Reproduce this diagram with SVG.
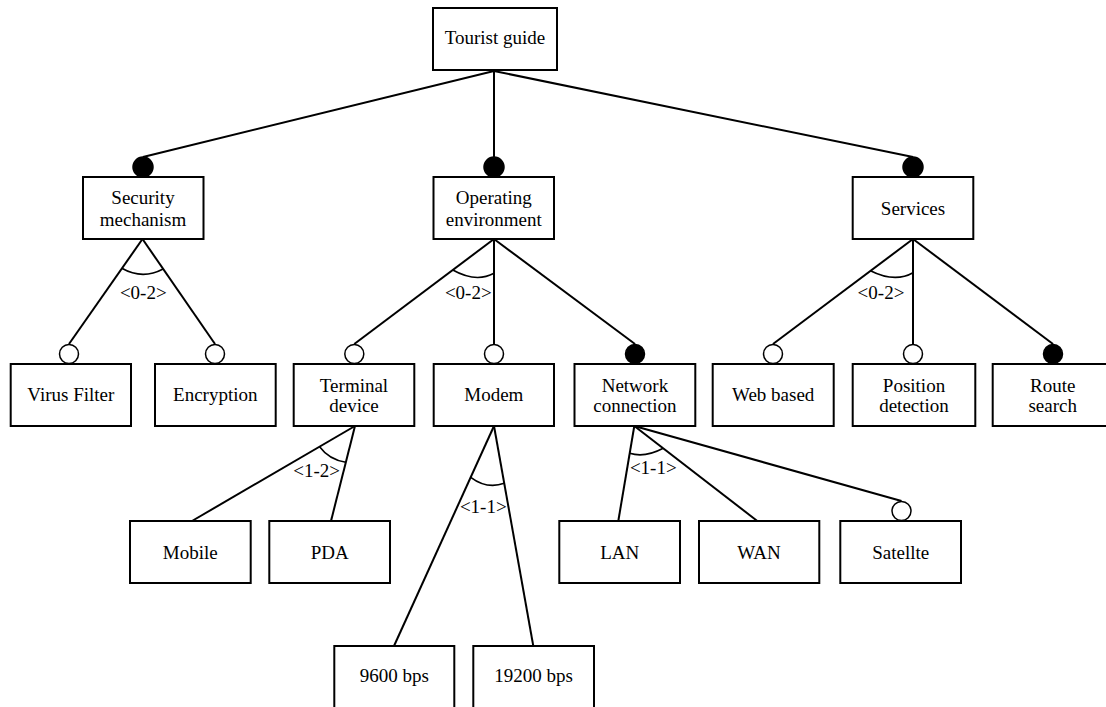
<svg xmlns="http://www.w3.org/2000/svg" width="1106" height="707" viewBox="0 0 1106 707">
  <style>
    .box { fill: #fff; stroke: #000; stroke-width: 2; }
    text { font-family: 'Liberation Serif', 'Times New Roman', serif; fill: #000; text-anchor: middle; }
    .lbl { font-size: 19px; }
    .card { font-size: 19px; }
    .edge { stroke: #000; stroke-width: 2; fill: none; }
    .arc { stroke: #000; stroke-width: 1.6; fill: none; }
    .mand { fill: #000; stroke: #000; stroke-width: 1.5; }
    .opt { fill: #fff; stroke: #000; stroke-width: 1.5; }
  </style>
  <rect width="1106" height="707" fill="#fff"/>

  <!-- connectors -->
  <g id="connectors">
    <!-- Tourist guide to first level -->
    <line class="edge" x1="494" y1="71" x2="143" y2="157"/>
    <line class="edge" x1="494" y1="71" x2="494" y2="157"/>
    <line class="edge" x1="494" y1="71" x2="913" y2="157"/>
    <!-- Security mechanism -->
    <line class="edge" x1="142.5" y1="239" x2="69" y2="344"/>
    <line class="edge" x1="142.5" y1="239" x2="215" y2="344"/>
    <path class="arc" d="M121.8,268.3 Q142.5,280 163.1,269"/>
    <!-- Operating environment -->
    <line class="edge" x1="494" y1="239" x2="354.3" y2="344"/>
    <line class="edge" x1="494" y1="239" x2="494" y2="344"/>
    <line class="edge" x1="494" y1="239" x2="635" y2="344"/>
    <path class="arc" d="M452.8,270 Q476,283 494,273.3"/>
    <!-- Services -->
    <line class="edge" x1="913" y1="239" x2="773" y2="344"/>
    <line class="edge" x1="913" y1="239" x2="913" y2="344"/>
    <line class="edge" x1="913" y1="239" x2="1053" y2="344"/>
    <path class="arc" d="M870.4,270.7 Q895,283 913,272.7"/>
    <!-- Terminal device -->
    <line class="edge" x1="355" y1="426" x2="192" y2="521"/>
    <line class="edge" x1="355" y1="426" x2="331" y2="521"/>
    <path class="arc" d="M319.6,446.7 Q328.9,459.4 345.8,462.3"/>
    <!-- Modem -->
    <line class="edge" x1="494" y1="426" x2="394" y2="646"/>
    <line class="edge" x1="494" y1="426" x2="533.3" y2="646"/>
    <path class="arc" d="M470.7,477.3 Q487,489.5 504.2,483.3"/>
    <!-- Network connection -->
    <line class="edge" x1="634.3" y1="426" x2="618.3" y2="521"/>
    <line class="edge" x1="634.3" y1="426" x2="757.3" y2="521"/>
    <line class="edge" x1="634.3" y1="426" x2="901.5" y2="501"/>
    <path class="arc" d="M629.7,453.3 Q645,458 663.2,448.3"/>

    <!-- feature markers: filled = mandatory, hollow = optional -->
    <circle class="mand" cx="143" cy="167" r="10"/>
    <circle class="mand" cx="494" cy="167" r="10"/>
    <circle class="mand" cx="913" cy="167" r="10"/>
    <circle class="opt" cx="69" cy="354" r="9.5"/>
    <circle class="opt" cx="215" cy="354" r="9.5"/>
    <circle class="opt" cx="354.3" cy="354" r="9.5"/>
    <circle class="opt" cx="494" cy="354" r="9.5"/>
    <circle class="mand" cx="635" cy="354" r="9.5"/>
    <circle class="opt" cx="773" cy="354" r="9.5"/>
    <circle class="opt" cx="913" cy="354" r="9.5"/>
    <circle class="mand" cx="1053" cy="354" r="9.5"/>
    <circle class="opt" cx="901.5" cy="511" r="9.5"/>

    <!-- group cardinalities -->
    <text class="card" x="143.3" y="299">&lt;0-2&gt;</text>
    <text class="card" x="468.3" y="299">&lt;0-2&gt;</text>
    <text class="card" x="881" y="299">&lt;0-2&gt;</text>
    <text class="card" x="316.7" y="476.5">&lt;1-2&gt;</text>
    <text class="card" x="483.3" y="512.5">&lt;1-1&gt;</text>
    <text class="card" x="653.3" y="473.8">&lt;1-1&gt;</text>
  </g>

  <!-- root -->
  <g id="tourist-guide">
    <rect class="box" x="433" y="8" width="124" height="62"/>
    <text class="lbl" x="495" y="44.3">Tourist guide</text>
  </g>

  <!-- first level -->
  <g id="security-mechanism">
    <rect class="box" x="83" y="177" width="120.5" height="62"/>
    <text class="lbl" x="143" y="204">Security</text>
    <text class="lbl" x="143" y="225.7">mechanism</text>
  </g>
  <g id="operating-environment">
    <rect class="box" x="433.5" y="177" width="120.5" height="62"/>
    <text class="lbl" x="493.8" y="204">Operating</text>
    <text class="lbl" x="493.8" y="225.7">environment</text>
  </g>
  <g id="services">
    <rect class="box" x="852.7" y="177" width="120.6" height="62"/>
    <text class="lbl" x="913" y="215">Services</text>
  </g>

  <!-- second level -->
  <g id="virus-filter">
    <rect class="box" x="10.7" y="364" width="120.3" height="62"/>
    <text class="lbl" x="70.8" y="400.7">Virus Filter</text>
  </g>
  <g id="encryption">
    <rect class="box" x="155" y="364" width="120.7" height="62"/>
    <text class="lbl" x="215.3" y="400.7">Encryption</text>
  </g>
  <g id="terminal-device">
    <rect class="box" x="293.7" y="364" width="120.6" height="62"/>
    <text class="lbl" x="354" y="391.7">Terminal</text>
    <text class="lbl" x="354" y="412.3">device</text>
  </g>
  <g id="modem">
    <rect class="box" x="433.7" y="364" width="120.3" height="62"/>
    <text class="lbl" x="493.8" y="400.7">Modem</text>
  </g>
  <g id="network-connection">
    <rect class="box" x="574.5" y="364" width="120.8" height="62"/>
    <text class="lbl" x="634.9" y="391.7">Network</text>
    <text class="lbl" x="634.9" y="412.3">connection</text>
  </g>
  <g id="web-based">
    <rect class="box" x="712.7" y="364" width="121" height="62"/>
    <text class="lbl" x="773.2" y="400.7">Web based</text>
  </g>
  <g id="position-detection">
    <rect class="box" x="852.7" y="364" width="122.6" height="62"/>
    <text class="lbl" x="914" y="391.7">Position</text>
    <text class="lbl" x="914" y="412.3">detection</text>
  </g>
  <g id="route-search">
    <rect class="box" x="992.7" y="364" width="121" height="62"/>
    <text class="lbl" x="1052.7" y="391.7">Route</text>
    <text class="lbl" x="1052.7" y="412.3">search</text>
  </g>

  <!-- third level -->
  <g id="mobile">
    <rect class="box" x="130" y="521" width="120.7" height="62"/>
    <text class="lbl" x="190.3" y="559">Mobile</text>
  </g>
  <g id="pda">
    <rect class="box" x="269.3" y="521" width="120.7" height="62"/>
    <text class="lbl" x="329.7" y="559">PDA</text>
  </g>
  <g id="lan">
    <rect class="box" x="559.3" y="521" width="120.7" height="62"/>
    <text class="lbl" x="619.7" y="559">LAN</text>
  </g>
  <g id="wan">
    <rect class="box" x="699" y="521" width="120.3" height="62"/>
    <text class="lbl" x="759" y="559">WAN</text>
  </g>
  <g id="satellite">
    <rect class="box" x="840.3" y="521" width="120.7" height="62"/>
    <text class="lbl" x="900.7" y="559">Satellte</text>
  </g>

  <!-- fourth level -->
  <g id="bps-9600">
    <rect class="box" x="334.3" y="646" width="120" height="62"/>
    <text class="lbl" x="394.3" y="681.7">9600 bps</text>
  </g>
  <g id="bps-19200">
    <rect class="box" x="473.3" y="646" width="120.7" height="62"/>
    <text class="lbl" x="533.7" y="681.7">19200 bps</text>
  </g>
</svg>
